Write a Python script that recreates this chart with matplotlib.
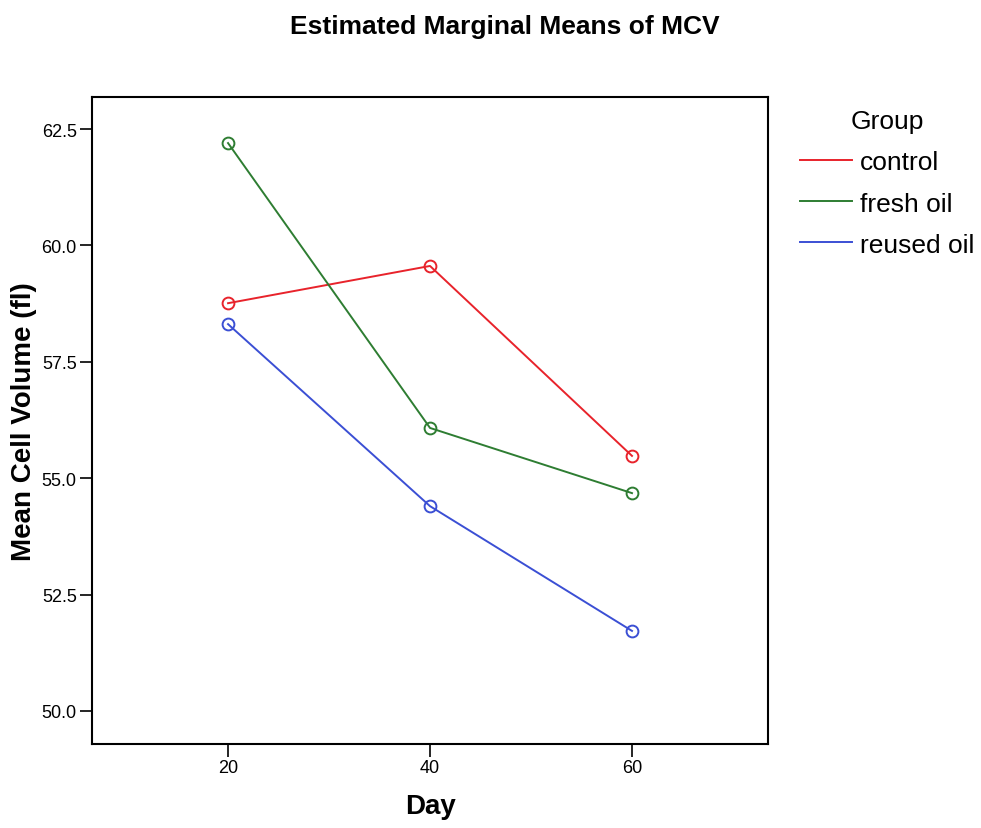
import matplotlib.pyplot as plt
from matplotlib.lines import Line2D

plt.rcParams['font.family'] = ['Liberation Sans', 'DejaVu Sans']

days = [20, 40, 60]
groups = ['control', 'fresh oil', 'reused oil']
control = [58.76, 59.56, 55.48]
fresh_oil = [62.20, 56.08, 54.68]
reused_oil = [58.31, 54.40, 51.72]
colors = ['#e8232b', '#2e7d32', '#3b4fd4']

fig = plt.figure(figsize=(9.81, 8.29), dpi=100)
ax = fig.add_axes([0.0938, 0.1013, 0.6891, 0.7805])

for vals, c, lab in zip([control, fresh_oil, reused_oil], colors, groups):
    ax.plot(days, vals, color=c, lw=1.4, marker='o', ms=8.5, mfc='none',
            mec=c, mew=1.4, label=lab)

ax.set_xlim(6.53, 73.47)
ax.set_ylim(49.29, 63.19)
ax.set_xticks(days)
ax.set_yticks([50.0, 52.5, 55.0, 57.5, 60.0, 62.5])
ax.set_yticklabels(['50.0', '52.5', '55.0', '57.5', '60.0', '62.5'])
ax.tick_params(labelsize=13, length=9, width=1.2, direction='out', pad=2)
for s in ax.spines.values():
    s.set_linewidth(1.5)

ax.set_xlabel('Day', fontsize=20, fontweight='bold')
ax.set_ylabel('Mean Cell Volume (fl)', fontsize=20, fontweight='bold')
ax.xaxis.set_label_coords(0.501, -0.075)
ax.yaxis.set_label_coords(-0.082, 0.5)
fig.text(0.515, 0.968, 'Estimated Marginal Means of MCV', ha='center', va='center',
         fontsize=19, fontweight='bold')

handles = [Line2D([0], [0], color=c, lw=1.4) for c in colors]
leg = fig.legend(handles, groups, title='Group', loc='upper left',
                 bbox_to_anchor=(0.815, 0.867), frameon=False, fontsize=19,
                 title_fontsize=19, handlelength=2.0, handletextpad=0.3,
                 labelspacing=0.65, borderpad=0, borderaxespad=0)

fig.savefig('out.png', dpi=100)
